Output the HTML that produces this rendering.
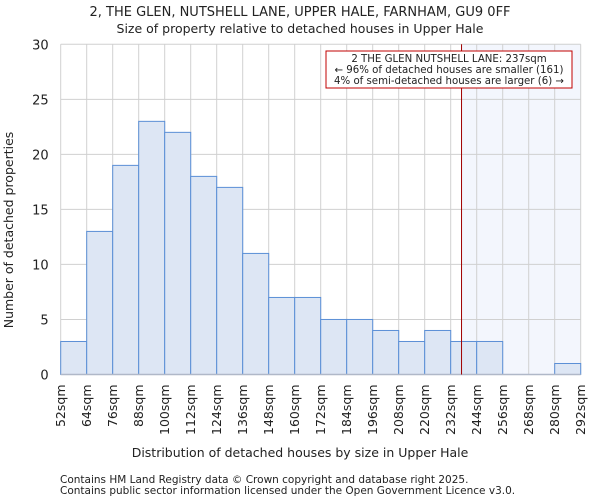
<!DOCTYPE html>
<html><head><meta charset="utf-8"><style>
body{margin:0;background:#fff;font-family:"DejaVu Sans","Liberation Sans",sans-serif}
svg text{font-family:"DejaVu Sans","Liberation Sans",sans-serif;fill:#222}
</style></head><body>
<svg id="c" width="600" height="500" xmlns="http://www.w3.org/2000/svg">
<text x="300" y="16" text-anchor="middle" font-size="13">2, THE GLEN, NUTSHELL LANE, UPPER HALE, FARNHAM, GU9 0FF</text>
<text x="300" y="33" text-anchor="middle" font-size="12.5">Size of property relative to detached houses in Upper Hale</text>
<g id="grid"></g><g id="bars"></g><g id="axes"></g>
<text x="300" y="457" text-anchor="middle" font-size="12.5">Distribution of detached houses by size in Upper Hale</text>
<text transform="translate(13,230) rotate(-90)" text-anchor="middle" font-size="12.5">Number of detached properties</text>
<text x="60" y="483" font-size="10.5">Contains HM Land Registry data © Crown copyright and database right 2025.</text>
<text x="60" y="494" font-size="10.5">Contains public sector information licensed under the Open Government Licence v3.0.</text>
</svg>
<script>
const binStarts=[52,64,76,88,100,112,124,136,148,160,172,184,196,208,220,232,244,256,268,280];
const counts=[3,13,19,23,22,18,17,11,7,7,5,5,4,3,4,3,3,0,0,1];
const yTicks=[0,5,10,15,20,25,30];
const xTickLabels=[52,64,76,88,100,112,124,136,148,160,172,184,196,208,220,232,244,256,268,280,292];
const subject=237;
const NS="http://www.w3.org/2000/svg";
const L=60.7,R=580.7,T=44.3,B=374.5,xMin=52,xMax=292,yMax=30;
const xs=v=>L+(v-xMin)/(xMax-xMin)*(R-L);
const ys=v=>B-v/yMax*(B-T);
function mk(p,tag,a){const e=document.createElementNS(NS,tag);for(const k in a)e.setAttribute(k,a[k]);p.appendChild(e);return e;}
const g=document.getElementById('grid'),bg=document.getElementById('bars'),ax=document.getElementById('axes');
const sh=mk(g,'rect',{x:xs(subject),y:T,width:R-xs(subject),height:B-T,fill:'#f3f6fd'});


yTicks.forEach(t=>{
 const l=mk(g,'line',{x1:L,x2:R,y1:ys(t),y2:ys(t),stroke:'#d0d0d0'});
 
 
 const tx=mk(ax,'text',{x:L-12,y:ys(t)+5,'text-anchor':'end','font-size':'13'});tx.textContent=t;
 
 
});
xTickLabels.forEach(t=>{
 const l=mk(g,'line',{x1:xs(t),x2:xs(t),y1:T,y2:B,stroke:'#d0d0d0'});
 
 
 const tx=mk(ax,'text',{transform:`translate(${xs(t)+4.5},${B+10}) rotate(-90)`,'text-anchor':'end','font-size':'12.5'});tx.textContent=t+'sqm';
 
 
});
binStarts.forEach((s,i)=>{
 if(!counts[i])return;
 const r=mk(bg,'rect',{x:xs(s),y:ys(counts[i]),width:xs(s+12)-xs(s),height:B-ys(counts[i]),fill:'#dde6f4',stroke:'#5b8fd6','stroke-width':1});
 
 
});
const bl=mk(ax,'line',{x1:L,x2:R,y1:B,y2:B,stroke:'#b0b8c8','stroke-width':1.5});


const vl=mk(ax,'line',{x1:xs(subject),x2:xs(subject),y1:T,y2:B,stroke:'#a00000','stroke-width':1});


const box=mk(ax,'rect',{x:326,y:51,width:246,height:37,fill:'#fff',stroke:'#c00000'});


['2 THE GLEN NUTSHELL LANE: 237sqm','← 96% of detached houses are smaller (161)','4% of semi-detached houses are larger (6) →'].forEach((s,i)=>{
 const t=mk(ax,'text',{x:449,y:62+i*11,'text-anchor':'middle','font-size':'10.2'});t.textContent=s;
 
 
});
</script>
</body></html>
